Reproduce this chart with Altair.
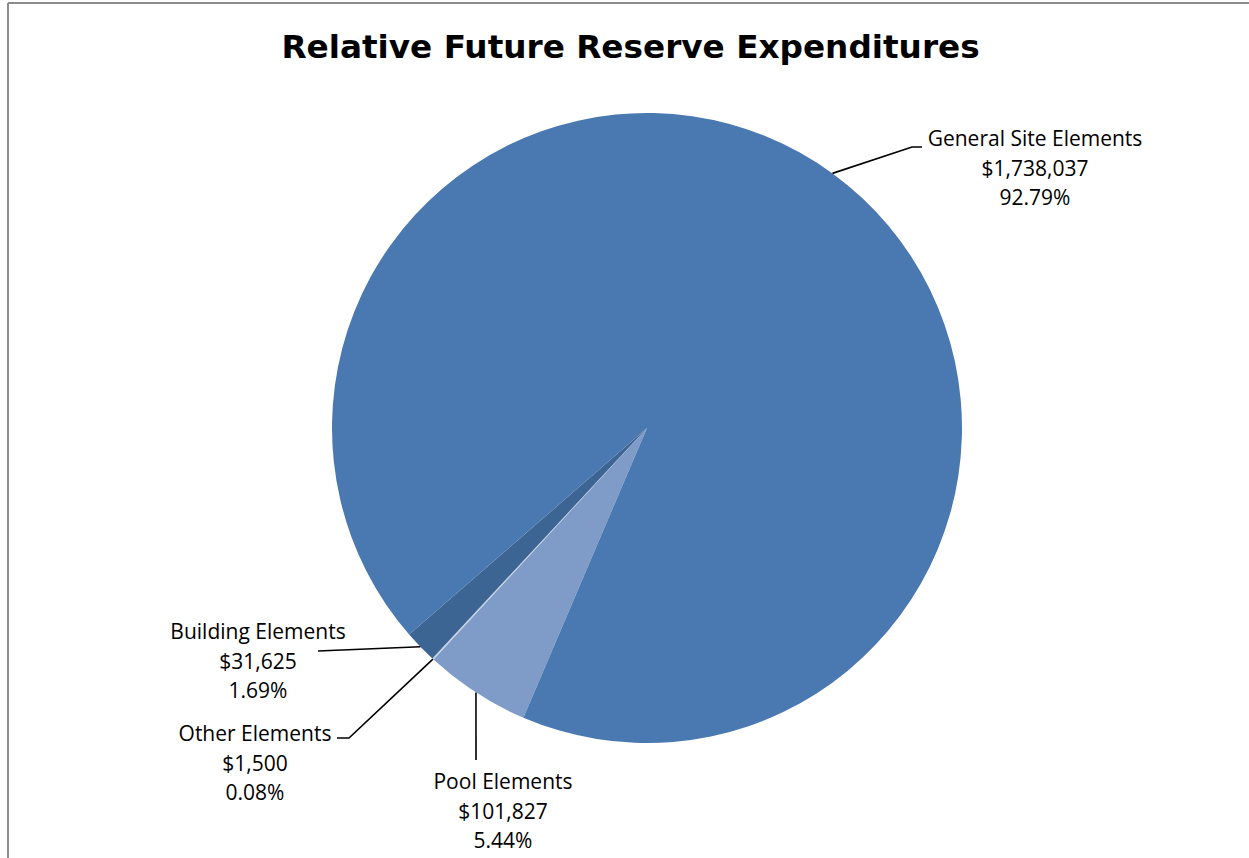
import math
import altair as alt
import pandas as pd

# ---------------- data ----------------
title_text = "Relative Future Reserve Expenditures"
categories = ["Pool Elements", "Other Elements", "Building Elements", "General Site Elements"]
amounts = [101827, 1500, 31625, 1738037]
amount_labels = ["$101,827", "$1,500", "$31,625", "$1,738,037"]
percent_labels = ["5.44%", "0.08%", "1.69%", "92.79%"]
colors = ["#7F9CC8", "#C3D0E5", "#3D6594", "#4A78B0"]

# ---------------- layout ----------------
W, H = 1241, 855            # plot area (px)
PAD = {"left": 8, "top": 3, "right": 0, "bottom": 0}
CX, CY = 639, 425           # pie centre inside the plot area (px)
R = 315                     # pie radius (px)
START_DEG = 203.1           # angle of first slice start (clockwise from 12 o'clock)

# first-line centre of each label block, offset from pie centre (px, y down)
label_offset = {
    "General Site Elements": (388, -288),
    "Building Elements": (-389, 205),
    "Other Elements": (-392, 307),
    "Pool Elements": (-144, 355),
}
# leader line extra points after the slice edge (px offsets from centre, y down)
leader_offset = {
    "General Site Elements": [(265, -281), (275, -281)],
    "Building Elements": [(-329, 223)],
    "Other Elements": [(-298, 310), (-310, 310)],
    "Pool Elements": [(-171, 332)],
}
LABEL_FONT = "Open Sans"
LABEL_SIZE = 21
LINE_H = 29.7
TITLE_FONT = "DejaVu Sans"
TITLE_SIZE = 32.7

# ---------------- derived tables ----------------
total = sum(amounts)
start = math.radians(START_DEG)
df = pd.DataFrame({
    "category": categories,
    "amount": amounts,
    "idx": list(range(len(categories))),
    "cx": 0.0,
    "cy": 0.0,
})

rows_lines, rows_text = [], []
cum = 0
for i, cat in enumerate(categories):
    mid = start + 2 * math.pi * (cum + amounts[i] / 2) / total
    cum += amounts[i]
    pts = [(R * math.sin(mid), -R * math.cos(mid))] + leader_offset[cat]
    for s, (px, py) in enumerate(pts):
        rows_lines.append({"category": cat, "step": s, "x": px, "y": -py})
    lx, ly = label_offset[cat]
    rows_text.append({
        "category": cat,
        "x": lx,
        "y": -ly,
        "label": f"{cat}\n{amount_labels[i]}\n{percent_labels[i]}",
    })
lines_df = pd.DataFrame(rows_lines)
text_df = pd.DataFrame(rows_text)
title_df = pd.DataFrame({"title": [title_text]})

xs = alt.Scale(domain=[-CX, W - CX], nice=False, zero=False)
ys = alt.Scale(domain=[CY - H, CY], nice=False, zero=False)

pie = alt.Chart(df).mark_arc(outerRadius=R).encode(
    x=alt.X("cx:Q", scale=xs, axis=None),
    y=alt.Y("cy:Q", scale=ys, axis=None),
    theta=alt.Theta("amount:Q", stack=True,
                    scale=alt.Scale(range=[start, start + 2 * math.pi])),
    color=alt.Color("category:N", scale=alt.Scale(domain=categories, range=colors), legend=None),
    order=alt.Order("idx:Q"),
)

leaders = alt.Chart(lines_df).mark_line(color="black", strokeWidth=1.6).encode(
    x=alt.X("x:Q", scale=xs, axis=None),
    y=alt.Y("y:Q", scale=ys, axis=None),
    detail="category:N",
    order=alt.Order("step:Q"),
)

labels = alt.Chart(text_df).mark_text(
    font=LABEL_FONT, fontSize=LABEL_SIZE, lineBreak="\n", lineHeight=LINE_H,
    align="center", baseline="middle", color="black",
).encode(
    x=alt.X("x:Q", scale=xs, axis=None),
    y=alt.Y("y:Q", scale=ys, axis=None),
    text="label:N",
)

title = alt.Chart(title_df).mark_text(
    font=TITLE_FONT, fontSize=TITLE_SIZE, fontWeight="bold",
    align="center", baseline="alphabetic", color="black",
).encode(
    x=alt.value(W / 2 + 2), y=alt.value(55), text="title:N"
)

border_left = alt.Chart(df).mark_rule(color="#8C8C8C", strokeWidth=2).encode(
    x=alt.value(0), y=alt.value(0), y2=alt.value(H)
)
border_top = alt.Chart(df).mark_rule(color="#8C8C8C", strokeWidth=2).encode(
    x=alt.value(0), x2=alt.value(W), y=alt.value(0)
)

chart = alt.layer(pie, leaders, labels, title, border_left, border_top).properties(
    width=W,
    height=H,
    padding=PAD,
    autosize="none",
    background="white",
).configure_view(stroke=None)

chart.save("out.html", embed_options={"renderer": "svg", "actions": False})
